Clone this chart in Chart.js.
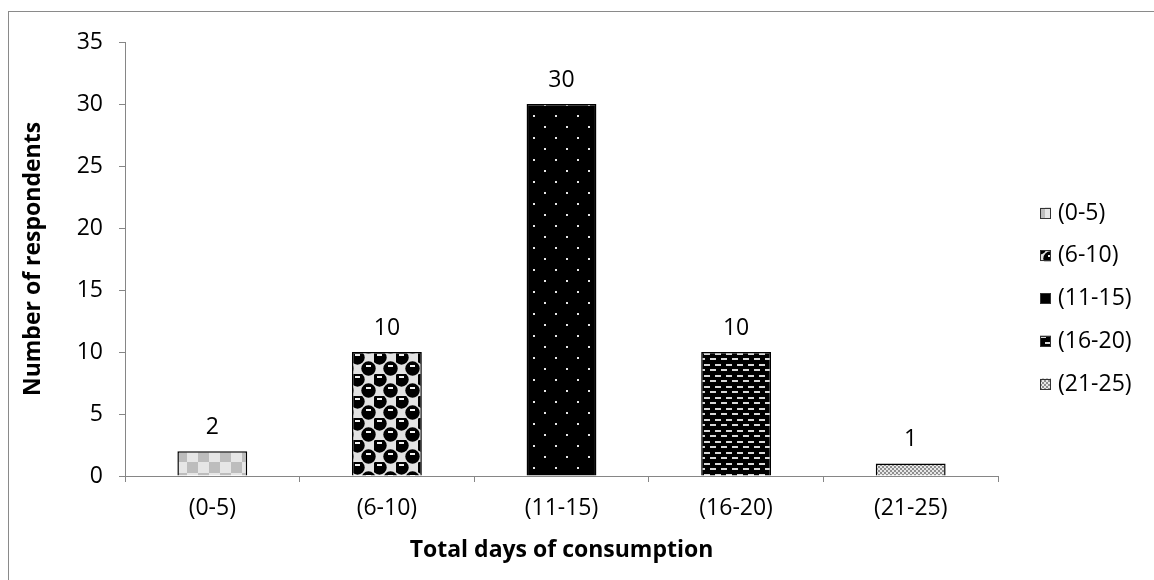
<!DOCTYPE html>
<html>
<head>
<meta charset="utf-8">
<script src="https://cdn.jsdelivr.net/npm/chart.js@4.4.1/dist/chart.umd.min.js"></script>
<style>
  html, body { margin: 0; padding: 0; background: #fff; }
  #wrap { position: relative; width: 1154px; height: 580px; overflow: hidden; }
  #frame { position: absolute; left: 8px; top: 11px; width: 1200px; height: 620px;
           border-left: 1px solid #8a8a8a; border-top: 1px solid #8a8a8a; }
  #chart { position: absolute; left: 0; top: 0; }
</style>
</head>
<body>
<div id="wrap">
  <div id="frame"></div>
  <canvas id="chart" width="1154" height="580"></canvas>
</div>
<script>
// data
const categories = ['(0-5)', '(6-10)', '(11-15)', '(16-20)', '(21-25)'];
const respondents = [2, 10, 30, 10, 1];
const yTicks = [0, 5, 10, 15, 20, 25, 30, 35];

const FONT = '"Open Sans", "Noto Sans", sans-serif';
const canvas = document.getElementById('chart');
const ctx = canvas.getContext('2d');

// small fill textures like the Excel pattern fills
function makePattern(w, h, draw) {
    const c = document.createElement('canvas');
    c.width = w;
    c.height = h;
    const g = c.getContext('2d');
    draw(g, w, h);
    return ctx.createPattern(c, 'repeat');
}

const patterns = [
    // big light checkerboard
    makePattern(22, 22, (g) => {
        g.fillStyle = '#e6e6e6';
        g.fillRect(0, 0, 22, 22);
        g.fillStyle = '#bdbdbd';
        g.fillRect(11, 0, 11, 11);
        g.fillRect(0, 11, 11, 11);
    }),
    // black spheres on grey
    makePattern(22, 22, (g) => {
        g.fillStyle = '#e2e2e2';
        g.fillRect(0, 0, 22, 22);
        g.fillStyle = '#000';
        const centres = [[5.5, 5.5], [16.5, 16.5], [16.5 - 22, 16.5], [16.5, 16.5 - 22], [16.5 - 22, 16.5 - 22]];
        centres.forEach(([cx, cy]) => {
            g.beginPath();
            g.arc(cx, cy, 7.2, 0, Math.PI * 2);
            g.fill();
        });
        g.fillStyle = '#f2f2f2';
        g.fillRect(3, 2, 5, 2);
        g.fillRect(14, 13, 5, 2);
    }),
    // black with white dots
    makePattern(22, 22, (g) => {
        g.fillStyle = '#000';
        g.fillRect(0, 0, 22, 22);
        g.fillStyle = '#e8e8e8';
        g.fillRect(5, 5, 2, 2);
        g.fillRect(16, 16, 2, 2);
    }),
    // black with white dashes (brick)
    makePattern(22, 11, (g) => {
        g.fillStyle = '#000';
        g.fillRect(0, 0, 22, 11);
        g.fillStyle = '#d9d9d9';
        g.fillRect(0, 1, 6, 2);
        g.fillRect(11, 1, 6, 2);
        g.fillRect(6, 6, 6, 2);
        g.fillRect(17, 6, 6, 2);
        g.fillRect(-5, 6, 6, 2);
    }),
    // fine checker
    makePattern(4, 4, (g) => {
        g.fillStyle = '#e8e8e8';
        g.fillRect(0, 0, 4, 4);
        g.fillStyle = '#8f8f8f';
        g.fillRect(0, 0, 2, 2);
        g.fillRect(2, 2, 2, 2);
    })
];

// numbers above the bars
const valueLabels = {
    id: 'valueLabels',
    afterDatasetsDraw(chart) {
        const c = chart.ctx;
        const meta = chart.getDatasetMeta(0);
        c.save();
        c.font = '23px ' + FONT;
        c.fillStyle = '#000';
        c.textAlign = 'center';
        c.textBaseline = 'middle';
        meta.data.forEach((bar, i) => {
            c.fillText(String(respondents[i]), bar.x, bar.y - 24);
        });
        c.restore();
    }
};

// legend on the right, one entry per category
const sideLegend = {
    id: 'sideLegend',
    afterDraw(chart) {
        const c = chart.ctx;
        const x = 1040, y0 = 213, step = 42.75, box = 11;
        c.save();
        c.font = '23px ' + FONT;
        c.textAlign = 'left';
        c.textBaseline = 'middle';
        categories.forEach((label, i) => {
            const y = y0 + i * step;
            c.fillStyle = patterns[i];
            c.fillRect(x, y - box / 2, box, box);
            c.strokeStyle = '#333';
            c.lineWidth = 1;
            c.strokeRect(x + 0.5, Math.round(y - box / 2) + 0.5, box - 1, box - 1);
            c.fillStyle = '#000';
            c.fillText(label, x + 18, y);
        });
        c.restore();
    }
};

new Chart(ctx, {
    type: 'bar',
    data: {
        labels: categories,
        datasets: [{
            data: respondents,
            backgroundColor: patterns,
            borderColor: '#000',
            borderWidth: 1.5,
            barPercentage: 0.4,
            categoryPercentage: 1.0
        }]
    },
    options: {
        responsive: false,
        animation: false,
        layout: { padding: { left: 0, right: 156, top: 42, bottom: 0 } },
        plugins: {
            legend: { display: false },
            tooltip: { enabled: false }
        },
        scales: {
            x: {
                grid: { offset: true, drawOnChartArea: false, tickLength: 6, color: '#868686' },
                border: { color: '#868686' },
                ticks: { color: '#000', font: { family: FONT, size: 23 }, padding: 13 },
                title: {
                    display: true,
                    text: 'Total days of consumption',
                    color: '#000',
                    font: { family: FONT, size: 23, weight: 'bold' },
                    padding: { top: 0, bottom: 16 }
                },
                afterFit: (s) => { s.height = 104; }
            },
            y: {
                min: 0,
                max: 35,
                afterBuildTicks: (s) => { s.ticks = yTicks.map(v => ({ value: v })); },
                grid: { drawOnChartArea: false, tickLength: 6, color: '#868686' },
                border: { color: '#868686' },
                ticks: { color: '#000', font: { family: FONT, size: 23 }, padding: 16 },
                title: {
                    display: true,
                    text: 'Number of respondents',
                    color: '#000',
                    font: { family: FONT, size: 23, weight: 'bold' },
                    padding: { top: 20, bottom: 0 }
                },
                afterFit: (s) => { s.width = 125; }
            }
        }
    },
    plugins: [valueLabels, sideLegend]
});
</script>
</body>
</html>
